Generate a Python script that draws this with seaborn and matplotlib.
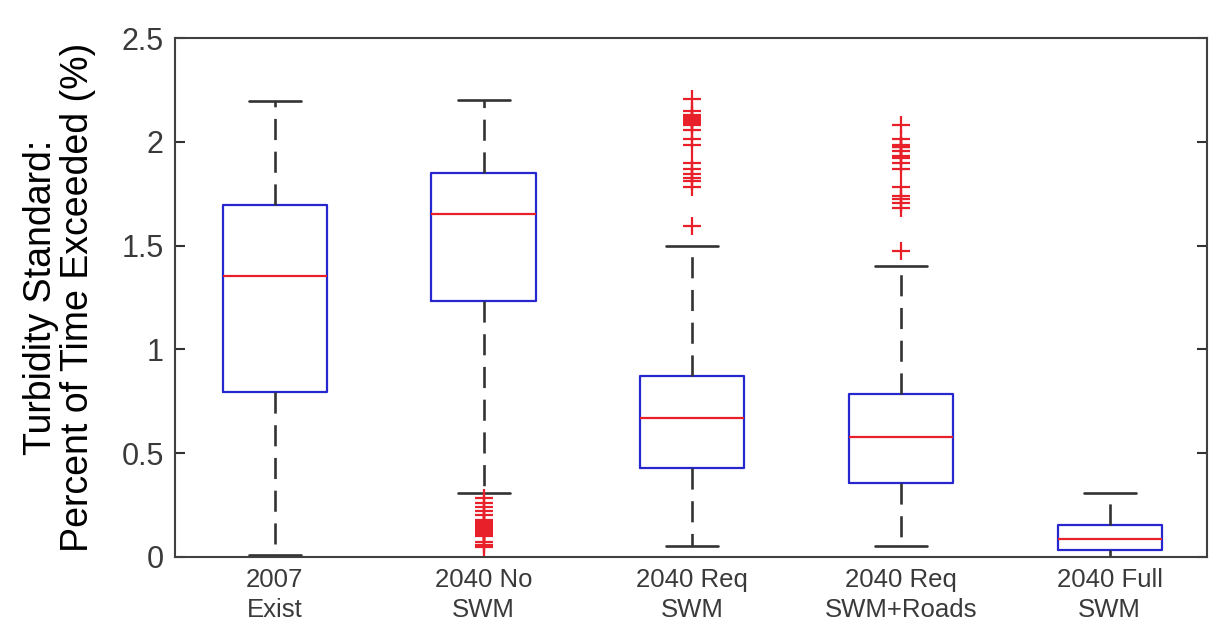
import numpy as np
import pandas as pd
import matplotlib
matplotlib.use("Agg")
import matplotlib.pyplot as plt
import seaborn as sns

# ---- data ----
categories = ["2007\nExist", "2040 No\nSWM", "2040 Req\nSWM", "2040 Req\nSWM+Roads", "2040 Full\nSWM"]
whisker_low = [0.010, 0.309, 0.053, 0.053, 0.000]
quartile1 = [0.797, 1.232, 0.430, 0.357, 0.034]
median = [1.353, 1.652, 0.671, 0.580, 0.087]
quartile3 = [1.696, 1.850, 0.874, 0.787, 0.155]
whisker_high = [2.198, 2.200, 1.498, 1.401, 0.309]

outliers_no_swm = [0.285, 0.261, 0.242, 0.222, 0.203, 0.180, 0.172, 0.164, 0.157,
                   0.150, 0.142, 0.135, 0.128, 0.121, 0.113, 0.106, 0.100, 0.072, 0.058, 0.048]
outliers_req_swm = [2.205, 2.147, 2.128, 2.118, 2.112, 2.108, 2.099, 2.090, 2.079, 2.055,
                    2.016, 1.983, 1.900, 1.867, 1.847, 1.828, 1.809, 1.784, 1.596]
outliers_req_roads = [2.081, 2.016, 1.987, 1.982, 1.977, 1.973, 1.954, 1.934, 1.920, 1.896,
                      1.871, 1.784, 1.741, 1.726, 1.707, 1.683, 1.475]

yticks = [0, 0.5, 1, 1.5, 2, 2.5]
ytick_labels = ["0", "0.5", "1", "1.5", "2", "2.5"]
ylabel = "Turbidity Standard:\nPercent of Time Exceeded (%)"

# ---- build tables ----
rows = []
for c, lo, a, m, b, hi in zip(categories, whisker_low, quartile1, median, quartile3, whisker_high):
    for v in (lo, a, m, b, hi):
        rows.append({"scenario": c, "value": v})
box_df = pd.DataFrame(rows)

out_rows = []
for c, vals in [(categories[1], outliers_no_swm), (categories[2], outliers_req_swm),
                (categories[3], outliers_req_roads)]:
    for v in vals:
        out_rows.append({"scenario": c, "value": v})
out_df = pd.DataFrame(out_rows)

sns.set_style("white")
plt.rcParams["font.family"] = ["Liberation Sans", "DejaVu Sans"]

fig = plt.figure(figsize=(12.09, 6.37), dpi=100)
ax = fig.add_axes([0.1447, 0.1256, 0.8536, 0.8147])

BLUE = "#2727cf"
RED = "#e8202a"
DARK = "#333333"

sns.boxplot(data=box_df, x="scenario", y="value", order=categories, ax=ax,
            whis=(0, 100), width=0.5, fill=False, linewidth=1.6,
            boxprops=dict(color=BLUE, linewidth=1.6),
            medianprops=dict(color=RED, linewidth=1.6),
            whiskerprops=dict(color=DARK, linewidth=1.9, linestyle=(0, (8, 4.4))),
            capprops=dict(color=DARK, linewidth=1.9),
            showfliers=False)

sns.stripplot(data=out_df, x="scenario", y="value", order=categories, ax=ax,
              jitter=False, marker="+", color=RED, edgecolor=RED, size=13, linewidth=1.6)

ax.set_xlim(-0.479, 4.466)
ax.set_ylim(0, 2.5)
ax.set_yticks(yticks)
ax.set_yticklabels(ytick_labels)
ax.set_xlabel("")
ax.set_ylabel(ylabel, fontsize=27, color="black", labelpad=18, linespacing=1.05)

ax.tick_params(axis="y", direction="in", length=7, width=1.5, color=DARK,
               left=True, right=True, labelsize=22, labelcolor="#3a3a3a", pad=8)
ax.tick_params(axis="x", length=0, labelsize=18.5, labelcolor="#3a3a3a", pad=8)
for lab in ax.get_xticklabels():
    lab.set_linespacing(1.3)

for s in ax.spines.values():
    s.set_visible(True)
    s.set_color("#404040")
    s.set_linewidth(1.5)

fig.savefig("out.png", dpi=100, facecolor="white")
